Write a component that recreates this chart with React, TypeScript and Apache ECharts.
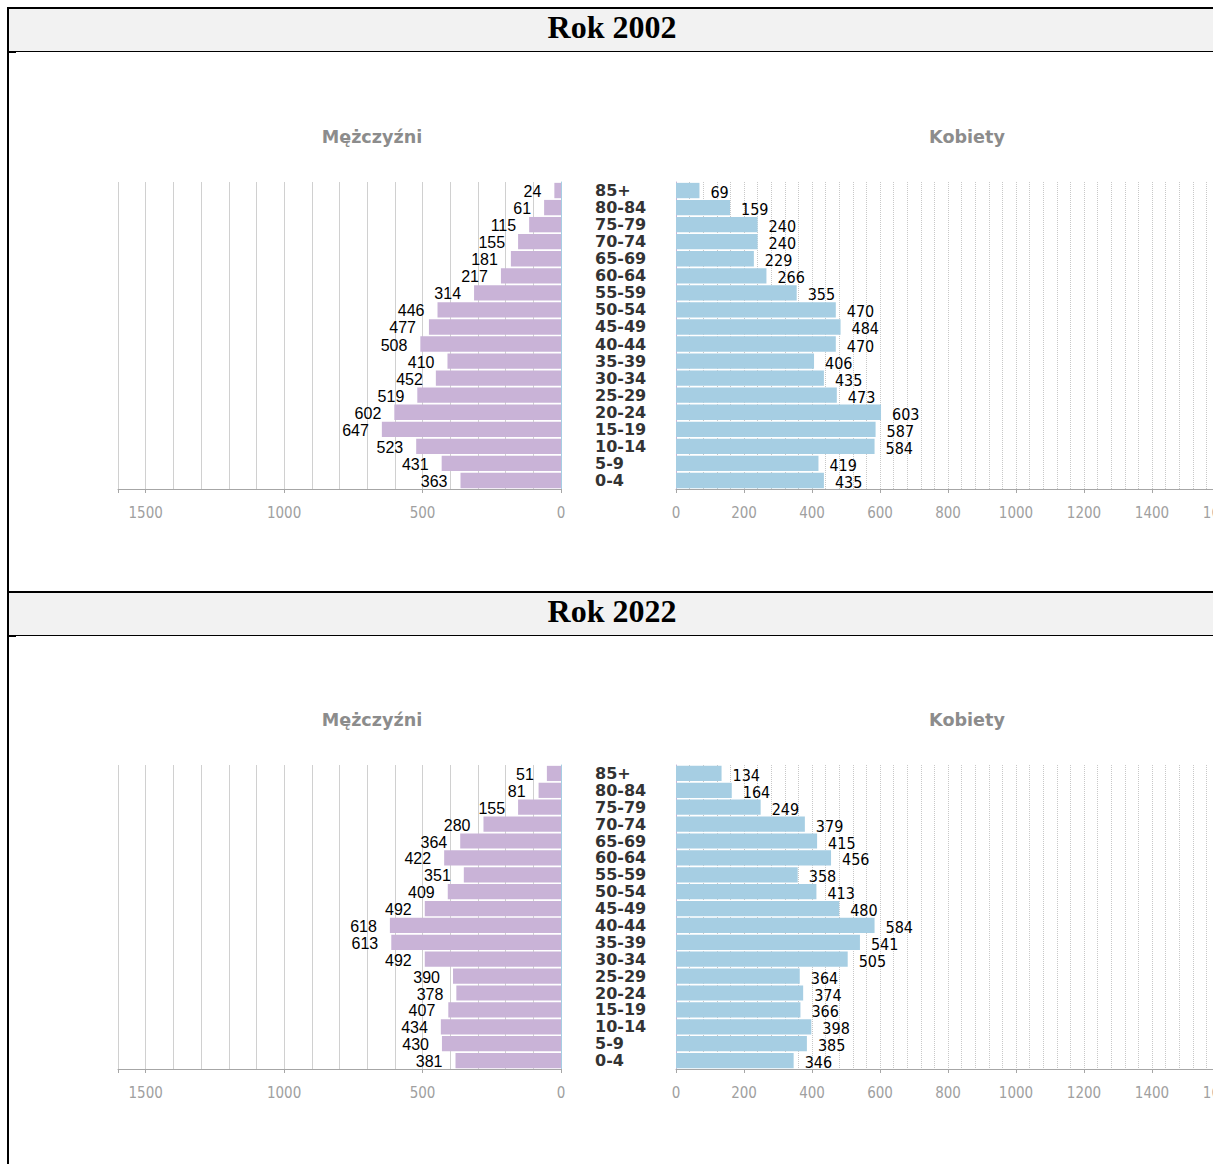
import React, { useEffect, useRef } from 'react';
import * as echarts from 'echarts';

const ageGroups = ['85+', '80-84', '75-79', '70-74', '65-69', '60-64', '55-59', '50-54', '45-49', '40-44', '35-39', '30-34', '25-29', '20-24', '15-19', '10-14', '5-9', '0-4'];
const men2002 = [24, 61, 115, 155, 181, 217, 314, 446, 477, 508, 410, 452, 519, 602, 647, 523, 431, 363];
const women2002 = [69, 159, 240, 240, 229, 266, 355, 470, 484, 470, 406, 435, 473, 603, 587, 584, 419, 435];
const men2022 = [51, 81, 155, 280, 364, 422, 351, 409, 492, 618, 613, 492, 390, 378, 407, 434, 430, 381];
const women2022 = [134, 164, 249, 379, 415, 456, 358, 413, 480, 584, 541, 505, 364, 374, 366, 398, 385, 346];
const menAxisMax = 1600;
const womenAxisMax = 1600;
const menTitle = 'Mężczyźni';
const womenTitle = 'Kobiety';

const MEN_COLOR = '#c9b3d7';
const WOMEN_COLOR = '#a6cee3';
const TICK_FONT = '"DejaVu Sans Condensed", "DejaVu Sans", sans-serif';

function buildOption(men: number[], women: number[], gridTop: number, gridHeight: number, titleY: number) {
  const leftGrid = { left: 111, top: gridTop, width: 443, height: gridHeight };
  const rightGrid = { left: 669, top: gridTop, width: 544, height: gridHeight };
  const gridLineAxis = (gridIndex: number, max: number, interval: number, inverse: boolean, color: string, type: any) => ({
    type: 'value', gridIndex, min: 0, max, interval, inverse, position: 'bottom',
    axisLine: { show: false }, axisTick: { show: false }, axisLabel: { show: false },
    splitLine: { show: true, lineStyle: { color, width: 1, type } },
  });
  const labelAxis = (gridIndex: number, max: number, interval: number, inverse: boolean, step: number) => ({
    type: 'value', gridIndex, min: 0, max, interval, inverse, position: 'bottom',
    axisLine: { show: true, lineStyle: { color: '#a6a6a6', width: 1 } },
    axisTick: { show: true, length: 4, lineStyle: { color: '#a6a6a6' } },
    axisLabel: {
      show: true, margin: 16, color: '#a0a0a0', fontSize: 15, fontFamily: TICK_FONT,
      formatter: (v: number) => (v % step === 0 ? String(v) : ''),
    },
    splitLine: { show: false },
  });
  return {
    animation: false,
    grid: [leftGrid, rightGrid],
    graphic: [
      { type: 'text', x: 365, y: titleY, style: { text: menTitle, align: 'center', verticalAlign: 'middle', font: 'bold 17.6px "DejaVu Sans"', fill: '#8c8c8c' } },
      { type: 'text', x: 960, y: titleY, style: { text: womenTitle, align: 'center', verticalAlign: 'middle', font: 'bold 17.6px "DejaVu Sans"', fill: '#8c8c8c' } },
    ],
    xAxis: [
      gridLineAxis(0, menAxisMax, 100, true, '#d0d0d0', 'solid'),
      labelAxis(0, menAxisMax, 500, true, 500),
      gridLineAxis(1, womenAxisMax, 40, false, '#c8c8c8', 'dotted'),
      labelAxis(1, womenAxisMax, 200, false, 200),
    ],
    yAxis: [
      {
        type: 'category', gridIndex: 0, data: ageGroups, inverse: true, position: 'right',
        axisLine: { show: true, lineStyle: { color: WOMEN_COLOR, width: 1 } },
        axisTick: { show: false }, axisLabel: { show: false }, splitLine: { show: false },
      },
      {
        type: 'category', gridIndex: 1, data: ageGroups, inverse: true, position: 'left',
        axisLine: { show: true, lineStyle: { color: MEN_COLOR, width: 1 } },
        axisTick: { show: false }, splitLine: { show: false },
        axisLabel: { show: true, interval: 0, align: 'left', margin: 81, color: '#333333', fontWeight: 'bold', fontSize: 16, fontFamily: '"DejaVu Sans", sans-serif' },
      },
    ],
    series: [
      {
        type: 'bar', xAxisIndex: 1, yAxisIndex: 0, data: men, barCategoryGap: '10%',
        itemStyle: { color: MEN_COLOR },
        label: { show: true, position: 'left', distance: 13, offset: [0, 1], color: '#000', fontSize: 16, fontFamily: '"Liberation Sans", Arial, sans-serif' },
      },
      {
        type: 'bar', xAxisIndex: 3, yAxisIndex: 1, data: women, barCategoryGap: '10%',
        itemStyle: { color: WOMEN_COLOR },
        label: { show: true, position: 'right', distance: 11, offset: [0, 2], color: '#000', fontSize: 16, fontFamily: TICK_FONT },
      },
    ],
  };
}

function Pyramid(props: { men: number[]; women: number[]; top: number; height: number; gridTop: number; gridHeight: number; titleY: number }) {
  const ref = useRef<HTMLDivElement>(null);
  useEffect(() => {
    if (!ref.current) return;
    const chart = echarts.init(ref.current, undefined, { renderer: 'svg' });
    chart.setOption(buildOption(props.men, props.women, props.gridTop, props.gridHeight, props.titleY) as any);
    return () => chart.dispose();
  }, []);
  return <div ref={ref} style={{ position: 'absolute', left: 0, top: props.top, width: 1260, height: props.height }} />;
}

function Header(props: { top: number; text: string }) {
  const t = props.top;
  return (
    <>
      <div style={{ position: 'absolute', left: 0, top: t, width: 1300, height: 2, background: '#000' }} />
      <div style={{ position: 'absolute', left: 2, top: t + 2, width: 1206, height: 42, background: '#f2f2f2', textAlign: 'center', lineHeight: '37px', fontFamily: '"Liberation Serif", "Times New Roman", serif', fontWeight: 'bold', fontSize: 32, color: '#000' }}>{props.text}</div>
      <div style={{ position: 'absolute', left: 2, top: t + 44, width: 1300, height: 1, background: '#000' }} />
      <div style={{ position: 'absolute', left: 2, top: t + 45, width: 7, height: 1, background: '#000' }} />
    </>
  );
}

export default function App() {
  return (
    <div style={{ position: 'fixed', left: 7, top: 7, width: 1206, height: 1157, overflow: 'hidden', background: '#fff' }}>
      <Header top={0} text="Rok 2002" />
      <Pyramid men={men2002} women={women2002} top={45} height={539} gridTop={130} gridHeight={307} titleY={85} />
      <Header top={584} text="Rok 2022" />
      <Pyramid men={men2022} women={women2022} top={629} height={539} gridTop={129} gridHeight={304} titleY={84} />
      <div style={{ position: 'absolute', left: 0, top: 0, width: 2, height: 1157, background: '#000', zIndex: 5 }} />
    </div>
  );
}
